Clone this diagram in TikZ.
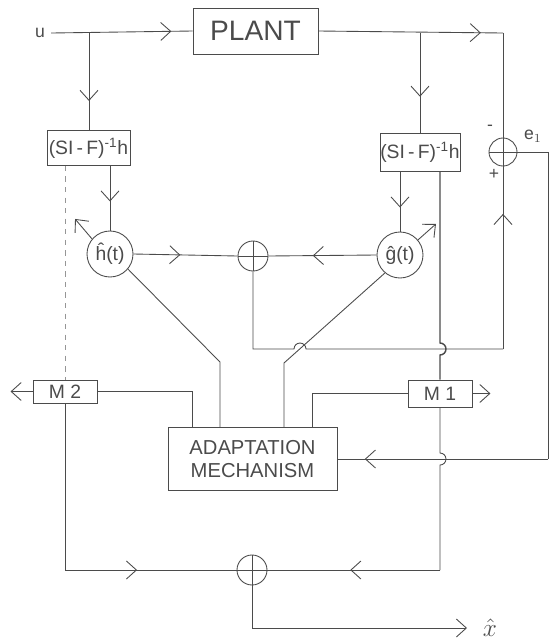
\documentclass[tikz,border=0pt]{standalone}
\usepackage{fontspec}
\setmainfont{Liberation Sans}
\usepackage{xcolor}
\definecolor{ink}{RGB}{75,75,75}
\definecolor{faint}{RGB}{150,150,150}
\usepackage{tikz}
\usetikzlibrary{arrows.meta,positioning,calc,decorations.markings}
\tikzset{
  %% blocks and junctions
  blockbox/.style={draw=ink, line width=0.5pt, inner sep=0pt, text=ink,
                   font=\fontsize{11}{13}\selectfont},
  gaincirc/.style={circle, draw=ink, line width=0.5pt, minimum size=9.2mm,
                   inner sep=0pt, text=ink, font=\fontsize{11}{13}\selectfont},
  sumnode/.style={circle, draw=ink, line width=0.5pt, minimum size=6mm,
                  inner sep=0pt,
                  path picture={\draw[ink,line width=0.4pt]
                    (path picture bounding box.north) -- (path picture bounding box.south)
                    (path picture bounding box.west) -- (path picture bounding box.east);}},
  wire/.style={draw=ink, line width=0.5pt},
  %% open arrow heads along a wire or at its end
  midarrow/.style={postaction={decorate},
    decoration={markings, mark=at position #1 with
      {\arrow{Straight Barb[length=2mm,width=3.6mm,line width=0.5pt]}}}},
  tipend/.style={-{Straight Barb[length=2mm,width=3.6mm,line width=0.5pt]}},
  tag/.style={text=ink, font=\fontsize{10}{12}\selectfont},
}

\begin{document}
\begin{tikzpicture}[x=0.2mm, y=-0.2mm]
  \useasboundingbox (0,0) rectangle (557,644);

  %% blocks
  \node[blockbox, minimum width=25mm, minimum height=9.2mm,
        font=\fontsize{16}{18}\selectfont] (plant) at (255.5,31) {PLANT};
  \node[blockbox, minimum width=16.6mm, minimum height=7mm] (lbox) at (88.5,148)
    {(SI\,-\,F)\textsuperscript{-1}h};
  \node[blockbox, minimum width=16mm, minimum height=7.6mm] (rbox) at (420,152)
    {(SI\,-\,F)\textsuperscript{-1}h};
  \node[gaincirc] (hcirc) at (110,254) {ĥ(t)};
  \node[gaincirc] (gcirc) at (400,255) {ĝ(t)};
  \node[sumnode] (summid) at (253,256) {};
  \node[sumnode, minimum size=5.6mm] (sume) at (503,152) {};
  \node[sumnode] (sumbot) at (252,570) {};
  \node[blockbox, minimum width=12.8mm, minimum height=4.6mm] (mtwo) at (65,391.5) {M 2};
  \node[blockbox, minimum width=12.8mm, minimum height=5.4mm] (mone) at (440,393.5) {M 1};
  \node[blockbox, minimum width=33.8mm, minimum height=12.6mm, align=center,
        font=\fontsize{11.5}{13.5}\selectfont] (adapt) at (252.5,459)
    {ADAPTATION\\MECHANISM};

  %% labels
  \node[tag] (uin) at (40,33) {u};
  \node[tag] (sminus) at (490,128) {-};
  \node[tag] (splus) at (494,174) {+};
  \node[tag] (eone) at (533,136) {e$_1$};
  \node[text=ink, font=\Large] (xhat) at (490,628) {$\hat{x}$};

  %% corner points
  \coordinate (ubr) at (89,33);
  \coordinate (pbr) at (420,33);
  \coordinate (ytop) at (503,33);
  \coordinate (ebot) at (503,349);
  \coordinate (ecor1) at (548,152);
  \coordinate (ecor2) at (548,459);
  \coordinate (hbend) at (220,362);
  \coordinate (gbend) at (284,363);
  \coordinate (botr) at (440,570);
  \coordinate (botl) at (65,570);
  \coordinate (outc) at (252,628);
  \coordinate (outend) at (467,628);

  %% input and plant output
  \draw[wire, midarrow=0.85] (uin.east) -- (plant.west);
  \draw[wire, midarrow=0.7] (ubr) -- (ubr |- lbox.north);
  \draw[wire, midarrow=0.88] (plant.east) -- (ytop);
  \draw[wire] (ytop) -- (sume.north);
  \draw[wire, midarrow=0.64] (pbr) -- (rbox.north);

  %% filters to gains
  \draw[wire, midarrow=0.55] (lbox.south -| hcirc) -- (hcirc.north);
  \draw[wire, midarrow=0.6] (rbox.south -| gcirc) -- (gcirc.north);
  \draw[wire, draw=faint, dashed] (lbox.south -| mtwo) -- (mtwo.north);
  \draw[wire, line width=0.8pt] (rbox.south -| mone) -- (440,343)
    arc[start angle=-90, end angle=90, radius=6] -- (mone.north);

  %% adjustable gains
  \draw[wire, tipend] (hcirc.140) -- ++(-17,-20);
  \draw[wire, tipend] (gcirc.40) -- ++(18,-16);
  \draw[wire, midarrow=0.45] (hcirc.east) -- (summid.west);
  \draw[wire, midarrow=0.59] (gcirc.west) -- (summid.east);
  \draw[wire] (hcirc.-40) -- (hbend) -- (hbend |- adapt.north);
  \draw[wire] (gcirc.-130) -- (gbend) -- (gbend |- adapt.north);

  %% estimate to output error
  \draw[wire] (summid.south) |- (294,349)
    arc[start angle=180, end angle=360, radius=6] -- (ebot);
  \draw[wire, midarrow=0.74] (ebot) -- (sume.south);
  \draw[wire] (sume.east) -- (ecor1) -- (ecor2);
  \draw[wire, midarrow=0.87] (ecor2) -- (adapt.east);

  %% adaptation outputs
  \draw[wire] (mtwo.east) -| (192,427.5);
  \draw[wire] (312,427.5) |- (mone.west);
  \draw[wire, tipend] (mtwo.west) -- ++(-22,0);
  \draw[wire, tipend] (mone.east) -- ++(18,0);

  %% state estimate
  \draw[wire] (mone.south) -- (440,453)
    arc[start angle=-90, end angle=90, radius=6] -- (botr);
  \draw[wire, midarrow=0.52] (botr) -- (sumbot.east);
  \draw[wire] (mtwo.south) -- (botl);
  \draw[wire, midarrow=0.42] (botl) -- (sumbot.west);
  \draw[wire, tipend] (sumbot.south) |- (outend);
\end{tikzpicture}
\end{document}
